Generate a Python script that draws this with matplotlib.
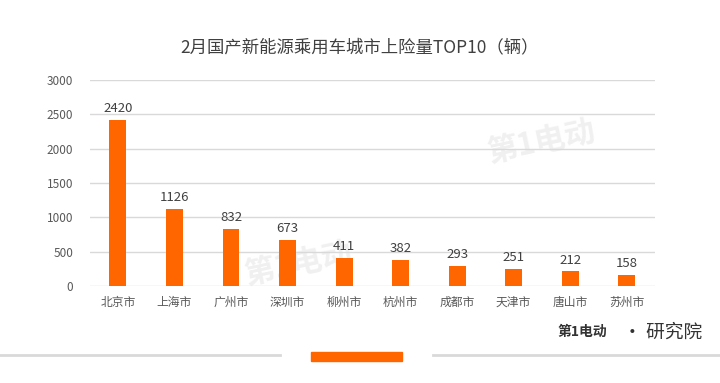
import matplotlib.pyplot as plt
import matplotlib.patches as mpatches

plt.rcParams['font.family'] = ['Noto Sans CJK SC', 'DejaVu Sans']

# 数据
cidades = ["北京市", "上海市", "广州市", "深圳市", "柳州市", "杭州市", "成都市", "天津市", "唐山市", "苏州市"]
valores = [2420, 1126, 832, 673, 411, 382, 293, 251, 212, 158]
yticks = [0, 500, 1000, 1500, 2000, 2500, 3000]

fig = plt.figure(figsize=(7.2, 3.83), dpi=100)
ax = fig.add_axes([0.1246, 0.2533, 0.785, 0.5378])

x = range(len(cidades))
bars = ax.bar(x, valores, width=0.3, color='#FF6600', zorder=3)
for xi, v in zip(x, valores):
    ax.text(xi, v + 70, str(v), ha='center', va='bottom', fontsize=9.5, color='#404040', zorder=4)

ax.set_xlim(-0.5, len(cidades) - 0.5)
ax.set_ylim(0, 3000)
ax.set_yticks(yticks)
ax.set_xticks(list(x))
ax.set_xticklabels(cidades)
ax.tick_params(axis='both', length=0, labelsize=8.5, colors='#595959')
ax.tick_params(axis='y', pad=12)
ax.tick_params(axis='x', pad=7)
ax.grid(axis='y', color='#D9D9D9', linewidth=1, zorder=0)
for s in ax.spines.values():
    s.set_visible(False)

# 水印 (atrás das barras)
ax.text(3.2, 320, "第1电动", ha='center', va='center', fontsize=22, color='#F0F0F0',
        rotation=12, weight='bold', zorder=1)
ax.text(7.5, 2100, "第1电动", ha='center', va='center', fontsize=22, color='#F0F0F0',
        rotation=12, weight='bold', zorder=1)

fig.text(0.5, 0.877, "2月国产新能源乘用车城市上险量TOP10（辆）", ha='center', va='center',
         fontsize=12.5, color='#404040')

# 底部装饰
fig.add_artist(plt.Line2D([0, 280 / 720], [1 - 355 / 383] * 2, color='#D9D9D9', lw=2))
fig.add_artist(plt.Line2D([433 / 720, 1], [1 - 355 / 383] * 2, color='#D9D9D9', lw=2))
fig.add_artist(mpatches.Rectangle((311 / 720, 1 - 361 / 383), 91 / 720, 9 / 383,
                                  color='#FF6600', transform=fig.transFigure))
fig.text(0.775, 1 - 332 / 383, "第1电动", ha='left', va='center', fontsize=10,
         color='#333333', style='italic', weight='bold')
fig.text(0.865, 1 - 332 / 383, "· 研究院", ha='left', va='center', fontsize=13.5, color='#333333')

fig.savefig('out.png', dpi=100, facecolor='white')
